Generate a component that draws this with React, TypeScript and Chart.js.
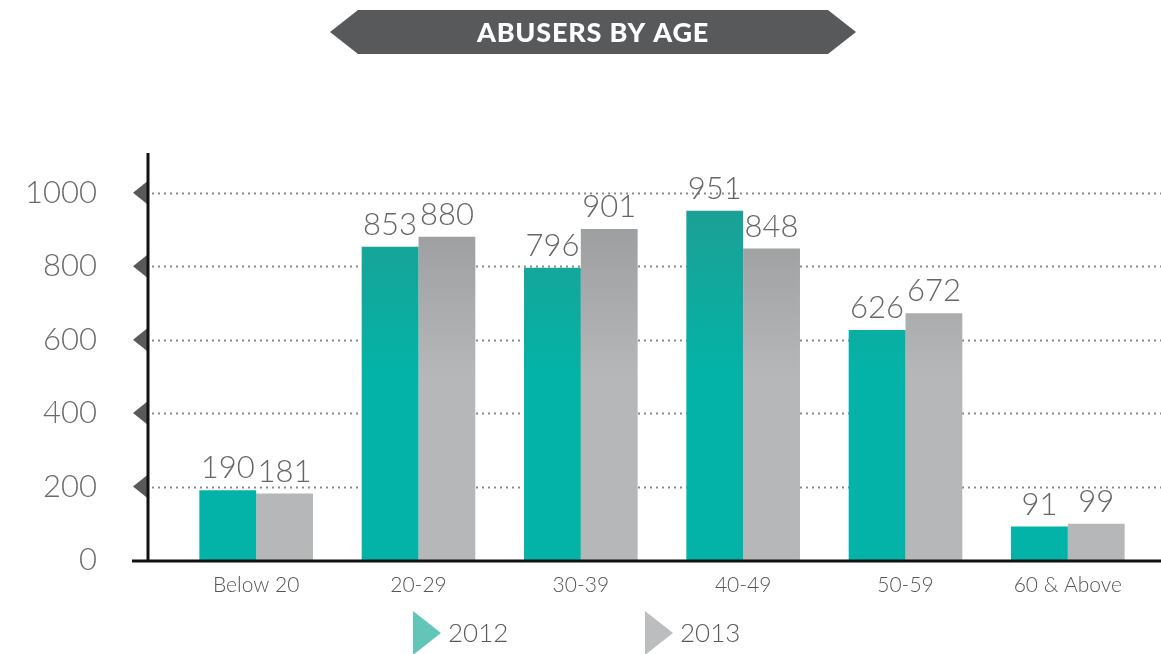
import React, { useEffect, useRef } from "react";
import { Chart, registerables } from "chart.js";

Chart.register(...registerables);

const title = "ABUSERS BY AGE";
const categories = ["Below 20", "20-29", "30-39", "40-49", "50-59", "60 & Above"];
const series2012 = [190, 853, 796, 951, 626, 91];
const series2013 = [181, 880, 901, 848, 672, 99];
const seriesNames = ["2012", "2013"];
const yTicks = [0, 200, 400, 600, 800, 1000];

const TEAL = "#03b3a7";
const TEAL_DARK = "#249a90";
const GRAY = "#b6b7b9";
const GRAY_DARK = "#929395";
const LIGHT_FONT = "Lato, 'Open Sans', 'DejaVu Sans', sans-serif";

function gradientFor(chart: any, light: string, dark: string) {
  const area = chart.chartArea;
  if (!area) return light;
  const g = chart.ctx.createLinearGradient(0, area.bottom, 0, area.top);
  g.addColorStop(0, light);
  g.addColorStop(0.45, light);
  g.addColorStop(1, dark);
  return g;
}

const decorPlugin = {
  id: "decor",
  beforeDatasetsDraw(chart: any) {
    const { ctx, scales, width } = chart;
    const y = scales.y;
    const axisX = chart.chartArea.left - 27;
    ctx.save();
    ctx.strokeStyle = "#8a8a8a";
    ctx.lineWidth = 2;
    ctx.setLineDash([2, 4]);
    yTicks.forEach((v) => {
      if (v === 0) return;
      const py = Math.round(y.getPixelForValue(v)) + 0.5;
      ctx.beginPath();
      ctx.moveTo(axisX + 4, py);
      ctx.lineTo(width, py);
      ctx.stroke();
    });
    ctx.setLineDash([]);
    ctx.fillStyle = "#58595b";
    yTicks.forEach((v) => {
      if (v === 0) return;
      const py = y.getPixelForValue(v);
      ctx.beginPath();
      ctx.moveTo(axisX - 15, py);
      ctx.lineTo(axisX, py - 12);
      ctx.lineTo(axisX, py + 12);
      ctx.closePath();
      ctx.fill();
    });
    ctx.restore();
  },
  afterDatasetsDraw(chart: any) {
    const { ctx, scales, width } = chart;
    const y = scales.y;
    const axisX = chart.chartArea.left - 27;
    const bottom = y.getPixelForValue(0);
    ctx.save();
    ctx.fillStyle = "#111";
    ctx.fillRect(axisX - 1.5, 153, 3, bottom - 153 + 1);
    ctx.fillRect(axisX - 16, bottom - 0.5, width - (axisX - 16), 3);
    ctx.fillStyle = "#666666";
    ctx.font = `300 31px ${LIGHT_FONT}`;
    ctx.textAlign = "center";
    ctx.textBaseline = "alphabetic";
    chart.data.datasets.forEach((ds: any, di: number) => {
      const meta = chart.getDatasetMeta(di);
      meta.data.forEach((bar: any, i: number) => {
        ctx.fillText(String(ds.data[i]), bar.x, bar.y - 12);
      });
    });
    const cx = 593;
    const bx0 = 330, bx1 = 856, by0 = 10, by1 = 54;
    const my = (by0 + by1) / 2;
    ctx.fillStyle = "#58595b";
    ctx.beginPath();
    ctx.moveTo(bx0, my);
    ctx.lineTo(bx0 + 28, by0);
    ctx.lineTo(bx1 - 28, by0);
    ctx.lineTo(bx1, my);
    ctx.lineTo(bx1 - 28, by1);
    ctx.lineTo(bx0 + 28, by1);
    ctx.closePath();
    ctx.fill();
    ctx.fillStyle = "#ffffff";
    ctx.font = `900 27px Lato, 'Open Sans', sans-serif`;
    try {
      (ctx as any).letterSpacing = "0.8px";
    } catch (e) {}
    ctx.textBaseline = "middle";
    ctx.fillText(title, cx, my + 1);
    try {
      (ctx as any).letterSpacing = "0px";
    } catch (e) {}
    const legendItems = [
      { x: 413, color: "#63c5b8", label: seriesNames[0] },
      { x: 645, color: "#bcbdbf", label: seriesNames[1] },
    ];
    ctx.textAlign = "left";
    ctx.font = `300 26px ${LIGHT_FONT}`;
    legendItems.forEach((it) => {
      ctx.fillStyle = it.color;
      ctx.beginPath();
      ctx.moveTo(it.x, 611);
      ctx.lineTo(it.x + 28, 633);
      ctx.lineTo(it.x, 655);
      ctx.closePath();
      ctx.fill();
      ctx.fillStyle = "#5a5a5a";
      ctx.fillText(it.label, it.x + 35, 634);
    });
    ctx.restore();
  },
};

export default function App() {
  const ref = useRef<HTMLCanvasElement | null>(null);
  useEffect(() => {
    document.body.style.margin = "0";
    const canvas = ref.current;
    if (!canvas) return;
    const chart = new Chart(canvas, {
      type: "bar",
      data: {
        labels: categories,
        datasets: [
          {
            label: seriesNames[0],
            data: series2012,
            backgroundColor: (c: any) => gradientFor(c.chart, TEAL, TEAL_DARK),
            borderWidth: 0,
            barPercentage: 1,
            categoryPercentage: 0.7,
          },
          {
            label: seriesNames[1],
            data: series2013,
            backgroundColor: (c: any) => gradientFor(c.chart, GRAY, GRAY_DARK),
            borderWidth: 0,
            barPercentage: 1,
            categoryPercentage: 0.7,
          },
        ],
      },
      options: {
        animation: false,
        responsive: false,
        layout: { padding: { top: 156, right: 12, left: 0, bottom: 0 } },
        plugins: { legend: { display: false }, tooltip: { enabled: false }, title: { display: false } },
        scales: {
          x: {
            grid: { display: false, drawTicks: false },
            border: { display: false },
            ticks: {
              color: "#555",
              font: { family: LIGHT_FONT, size: 21, weight: "300" as any },
              padding: 13,
              maxRotation: 0,
              autoSkip: false,
            },
            afterFit: (s: any) => {
              s.height = 94;
              s.paddingTop = 0;
              s.paddingBottom = 0;
            },
          },
          y: {
            min: 0,
            max: 1100,
            grid: { display: false, drawTicks: false },
            border: { display: false },
            afterBuildTicks: (s: any) => {
              s.ticks = yTicks.map((v) => ({ value: v }));
            },
            ticks: {
              color: "#6a6a6a",
              font: { family: LIGHT_FONT, size: 31, weight: "300" as any },
              padding: 78,
              callback: (v: any) => String(v),
            },
            afterFit: (s: any) => {
              s.width = 175;
              s.paddingTop = 0;
              s.paddingBottom = 0;
            },
          },
        },
      },
      plugins: [decorPlugin],
    });
    return () => chart.destroy();
  }, []);
  return (
    <div style={{ position: "fixed", left: 0, top: 0, width: 1161, height: 654, background: "#fff" }}>
      <canvas ref={ref} width={1161} height={654} style={{ width: 1161, height: 654, display: "block" }} />
    </div>
  );
}
